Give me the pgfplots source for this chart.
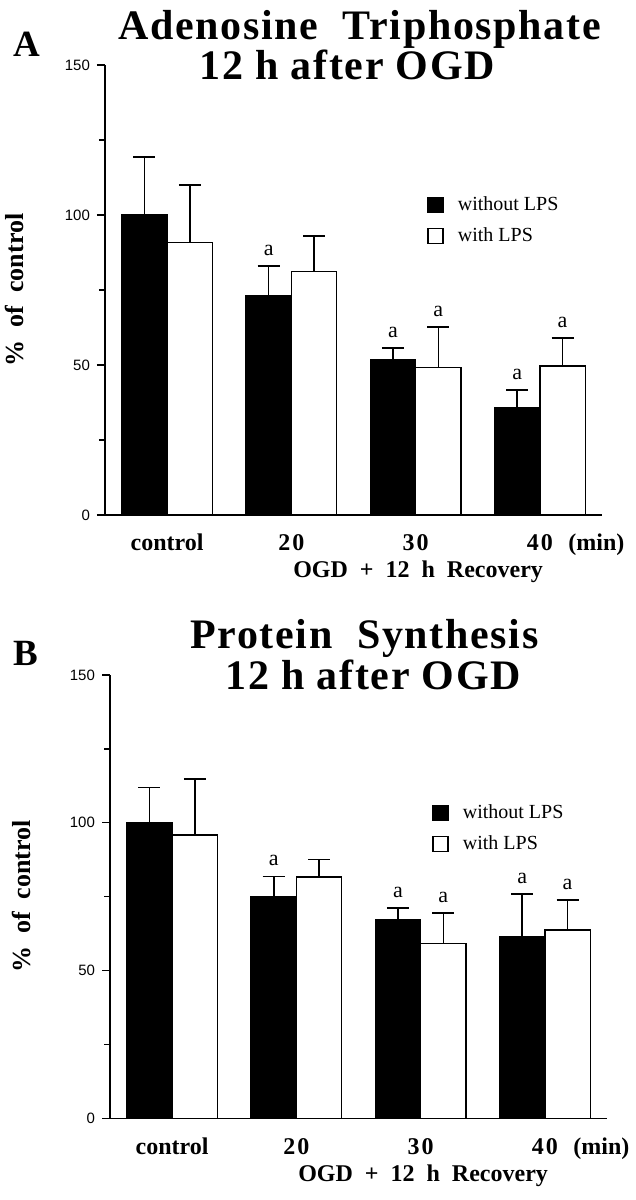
\documentclass[border=0pt]{standalone}
\usepackage{fontspec}
\setmainfont{Liberation Serif}
\setsansfont{Liberation Sans}
\usepackage{pgfplots}
\usepackage{pgfplotstable}
\pgfplotsset{compat=1.18}
\pgfplotstableread{
x wo ewo wi ewi
0 100.0 19.4 90.9 19.0
1 73.1 9.9 81.2 11.8
2 51.7 3.9 49.2 13.5
3 35.9 5.7 49.7 9.2
}\tabA
\pgfplotstableread{
x wo ewo wi ewi
0 100.0 11.9 95.8 19.0
1 75.0 6.8 81.7 5.9
2 67.1 4.0 59.2 10.2
3 61.5 14.3 63.7 10.2
}\tabB
\newfontfamily\titlefont[LetterSpace=4]{Liberation Serif}
\pgfplotsset{
  sqlegend/.style={legend image code/.code={\draw[##1,line width=0.7pt] (0pt,-3.75pt) rectangle (7.5pt,3.75pt);}},
  panel/.style={
    scale only axis, width=248.5pt,
    xmin=-0.5, xmax=3.5, ymin=0, ymax=150, enlargelimits=false,
    axis x line=bottom, axis y line=left,
    axis line style={-, line width=0.75pt},
    xtick={0,1,2,3},
    xticklabels={control,2\kern1pt 0,3\kern1pt 0,{4\kern1pt 0\rlap{\hspace{0.65em}(min)}}},
    xtick style={draw=none},
    ytick={0,50,100,150}, minor ytick={25,75,125},
    tick align=outside, major tick length=4pt, minor tick length=3pt,
    tick style={line width=0.7pt, black},
    /pgf/number format/assume math mode=true,
    yticklabel style={font=\sffamily\fontsize{7.5}{8}\selectfont},
    xticklabel style={font=\bfseries\fontsize{12}{12}\selectfont, anchor=base, yshift=-14pt},
    xlabel={OGD\ \ +\ \ 12\ \ h\ \ Recovery},
    every axis x label/.style={at={(axis description cs:0.63,0)}, anchor=center, yshift=-28.5pt, font=\bfseries\fontsize{12}{12}\selectfont},
    ylabel={\%\ \ of\ \ control},
    legend style={at={(axis description cs:0.648,0.713)}, anchor=north west, draw=none, fill=none,
      inner sep=0pt, row sep=5pt, column sep=6pt, font=\fontsize{10}{10}\selectfont,
      nodes={inner sep=1pt}},
    legend cell align=left,
    clip=false,
  },
  errs/.style={error bars/.cd, y dir=plus, y explicit,
    error bar style={line width=0.8pt, black},
    error mark options={rotate=90, mark size=5.5pt, line width=0.8pt, black}},
  blk/.style={ybar, bar width=0.365, bar shift=0, fill=black, draw=black, line width=0.7pt, sqlegend, errs},
  wht/.style={ybar, bar width=0.365, bar shift=0, fill=white, draw=black, line width=0.7pt, sqlegend, errs},
  sig/.style={draw=none, mark=none, nodes near coords, point meta=explicit symbolic,
    nodes near coords style={anchor=south, inner sep=0pt, yshift=5pt, font=\fontsize{11}{11}\selectfont}},
}
\begin{document}
\begin{tikzpicture}
\path[use as bounding box] (0,0) rectangle (318pt,600pt);
% Panel A
\begin{axis}[panel, at={(52.5pt,342.5pt)}, anchor=south west, height=225pt,
  every axis y label/.style={at={(axis description cs:-0.183,0.5)}, rotate=90, anchor=center, font=\bfseries\fontsize{13}{13}\selectfont}]
\addplot[blk] table[x expr=\thisrow{x}-0.1825, y=wo, y error=ewo] {\tabA};
\addlegendentry{without LPS}
\addplot[wht] table[x expr=\thisrow{x}+0.1825, y=wi, y error=ewi] {\tabA};
\addlegendentry{with LPS}
\addplot[sig, forget plot] coordinates {(0.8175,83.0)[a] (1.8175,55.6)[a] (2.1825,62.7)[a] (2.8175,41.6)[a] (3.1825,58.9)[a]};
\end{axis}
% Panel B
\begin{axis}[panel, at={(55pt,40.85pt)}, anchor=south west, height=221.65pt,
  every axis y label/.style={at={(axis description cs:-0.179,0.5)}, rotate=90, anchor=center, font=\bfseries\fontsize{13}{13}\selectfont}]
\addplot[blk] table[x expr=\thisrow{x}-0.1825, y=wo, y error=ewo] {\tabB};
\addlegendentry{without LPS}
\addplot[wht] table[x expr=\thisrow{x}+0.1825, y=wi, y error=ewi] {\tabB};
\addlegendentry{with LPS}
\addplot[sig, forget plot] coordinates {(0.8175,81.8)[a] (1.8175,71.1)[a] (2.1825,69.4)[a] (2.8175,75.8)[a] (3.1825,73.9)[a]};
\end{axis}
% titles and panel letters
\node[anchor=base west, inner sep=0pt, font=\bfseries\fontsize{18.5}{18.5}\selectfont] at (6.5pt,571.5pt) {A};
\node[anchor=base west, inner sep=0pt, font=\titlefont\bfseries\fontsize{21}{21}\selectfont] at (59pt,580pt) {Adenosine\ \ Triphosphate};
\node[anchor=base west, inner sep=0pt, font=\titlefont\bfseries\fontsize{21}{21}\selectfont] at (99.5pt,560pt) {12 h after OGD};
\node[anchor=base west, inner sep=0pt, font=\bfseries\fontsize{18.5}{18.5}\selectfont] at (6.5pt,267pt) {B};
\node[anchor=base west, inner sep=0pt, font=\titlefont\bfseries\fontsize{21}{21}\selectfont] at (95pt,275.5pt) {Protein\ \ Synthesis};
\node[anchor=base west, inner sep=0pt, font=\titlefont\bfseries\fontsize{21}{21}\selectfont] at (112.5pt,255pt) {12 h after OGD};
\end{tikzpicture}
\end{document}
